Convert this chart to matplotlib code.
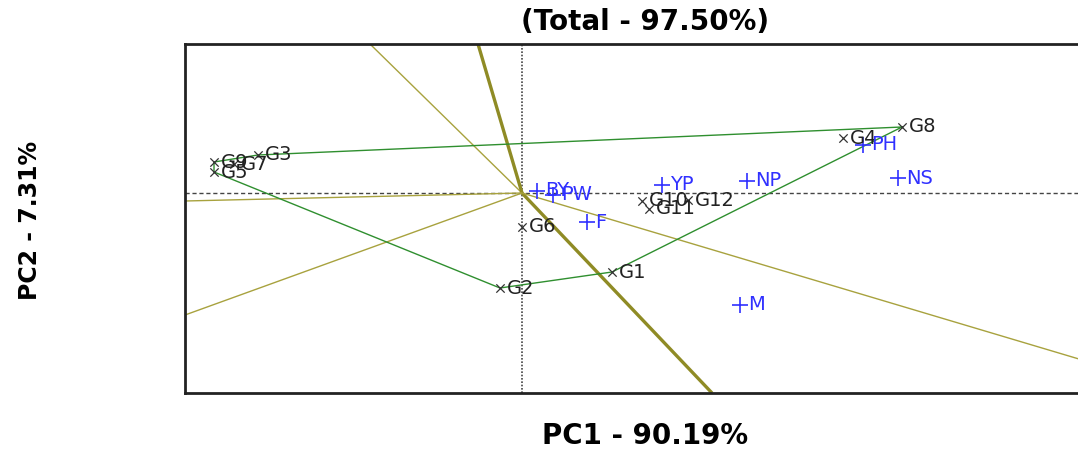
import numpy as np
import matplotlib.pyplot as plt

# GGE biplot scores (which-won-where view)
genotypes = ["G1", "G2", "G3", "G4", "G5", "G6", "G7", "G8", "G9", "G10", "G11", "G12"]
gen_pc1 = [0.90, -0.22, -2.64, 3.21, -3.08, 0.00, -2.88, 3.80, -3.08, 1.20, 1.27, 1.66]
gen_pc2 = [-0.79, -0.95, 0.38, 0.55, 0.21, -0.34, 0.29, 0.66, 0.31, -0.08, -0.16, -0.07]

traits = ["BY", "PW", "F", "YP", "NP", "PH", "NS", "M"]
trait_pc1 = [0.15, 0.31, 0.65, 1.40, 2.25, 3.41, 3.76, 2.18]
trait_pc2 = [0.02, -0.02, -0.29, 0.08, 0.12, 0.48, 0.15, -1.12]

# convex hull of the vertex genotypes
hull = ["G8", "G3", "G9", "G5", "G2", "G1", "G8"]

# sector rays from the origin (end points)
ray_x = [-1.52, -0.44, 1.90, -3.37, -3.37, 5.67]
ray_y = [1.49, 1.49, -2.00, -0.08, -1.22, -1.69]

title = "(Total - 97.50%)"
xlabel = "PC1 - 90.19%"
ylabel = "PC2 - 7.31%"

fig = plt.figure(figsize=(10.78, 4.5), dpi=100)
ax = fig.add_axes([185 / 1078, 57 / 450, (1089 - 185) / 1078, 349 / 450])
ax.set_xlim(-3.37, 5.67)
ax.set_ylim(-2.0, 1.49)

# reference lines through origin
ax.axvline(0, color="#444444", lw=1.2, ls=(0, (1, 1)), zorder=1)
ax.axhline(0, color="#444444", lw=1.0, ls=(0, (3, 2)), zorder=1)

# rays
thick = {1, 2}
for i, (rx, ry) in enumerate(zip(ray_x, ray_y)):
    ax.plot([0, rx], [0, ry], color="#8f8b25" if i in thick else "#a8a23e",
            lw=2.4 if i in thick else 1.0, zorder=2, solid_capstyle="butt")

# polygon
gpos = dict(zip(genotypes, zip(gen_pc1, gen_pc2)))
hx = [gpos[g][0] for g in hull]
hy = [gpos[g][1] for g in hull]
ax.plot(hx, hy, color="#2f8f2f", lw=1.0, zorder=3)

# genotypes
ax.scatter(gen_pc1, gen_pc2, marker="x", s=36, color="#333333", linewidths=0.9, zorder=4)
for g, x, y in zip(genotypes, gen_pc1, gen_pc2):
    ax.annotate(g, (x, y), xytext=(5, 0), textcoords="offset points",
                va="center", ha="left", fontsize=14, color="#222222", zorder=5)

# traits
ax.scatter(trait_pc1, trait_pc2, marker="+", s=120, color="#3030ff", linewidths=1.2, zorder=4)
for t, x, y in zip(traits, trait_pc1, trait_pc2):
    ax.annotate(t, (x, y), xytext=(6, 0), textcoords="offset points",
                va="center", ha="left", fontsize=14, color="#3030ff", zorder=5)

ax.set_xticks([])
ax.set_yticks([])
for s in ax.spines.values():
    s.set_linewidth(2.0)
    s.set_color("#222222")

fig.text(645 / 1078, 1 - 22 / 450, title, ha="center", va="center",
         fontsize=20, fontweight="bold")
fig.text(645 / 1078, 1 - 436 / 450, xlabel, ha="center", va="center",
         fontsize=20, fontweight="bold")
fig.text(30 / 1078, 1 - 220 / 450, ylabel, ha="center", va="center",
         rotation=90, fontsize=17, fontweight="bold")

fig.savefig("out.png", dpi=100)
